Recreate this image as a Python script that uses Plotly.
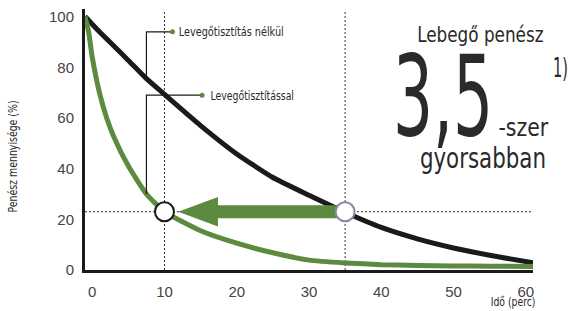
import json
import plotly.graph_objects as go

# ---- data ----
time_min = [-1, -0.5, 0, 1, 2, 3, 5, 7.5, 10, 15, 20, 25, 30, 35, 40, 45, 50, 55, 61]
mold_without = [100, 98.6, 97, 94, 91.2, 88.4, 82.7, 75.5, 69.3, 57, 45.8, 36.5, 29.5, 22.8, 16.8, 12.3, 8.7, 5.8, 2.8]
mold_with = [100, 94, 84, 70, 60, 52.5, 41, 30, 23, 15.5, 10.6, 6.8, 3.9, 2.8, 2.1, 1.8, 1.6, 1.5, 1.4]
y_ticks = [0, 20, 40, 60, 80, 100]
x_ticks = [0, 10, 20, 30, 40, 50, 60]
level = 23          # remaining mold level compared
t_with = 10         # minutes to reach level with purifier
t_without = 35      # minutes to reach level without purifier
label_without = "Levegőtisztítás nélkül"
label_with = "Levegőtisztítással"

GREEN = "#5c8a3e"
BLACK = "#1a1a1a"
NARROW = "DejaVu Sans Condensed, DejaVu Sans, sans-serif"
TEXT = "#2a2a2a"

W, H = 571, 311
ML, MR, MT, MB = 85, 38, 9, 41
PW, PH = W - ML - MR, H - MT - MB


def px(xp):
    return (xp - ML) / PW


def py(yp):
    return (H - MB - yp) / PH


fig = go.Figure()

# dotted reference lines
for t in (t_with, t_without):
    fig.add_shape(type="line", x0=t, x1=t, y0=0, y1=102, xref="x", yref="y",
                  line=dict(color="#333", width=1, dash="2px,2px"), layer="below")
fig.add_shape(type="line", x0=-1, x1=61, y0=level, y1=level, xref="x", yref="y",
              line=dict(color="#333", width=1, dash="2px,2px"), layer="below")

# curves
fig.add_trace(go.Scatter(x=time_min, y=mold_without, mode="lines",
                         line=dict(color=BLACK, width=5, shape="spline", smoothing=0.5),
                         hoverinfo="skip", showlegend=False))
fig.add_trace(go.Scatter(x=time_min, y=mold_with, mode="lines",
                         line=dict(color=GREEN, width=5, shape="spline", smoothing=0.5),
                         hoverinfo="skip", showlegend=False))

# arrow polygon (from the 'without' crossing towards the 'with' crossing)
tip = t_with + 1.9
head_base = tip + 5.5
shaft_h = 2.6
head_h = 5.8
ax = [t_without, head_base, head_base, tip, head_base, head_base, t_without, t_without]
ay = [level + shaft_h, level + shaft_h, level + head_h, level, level - head_h,
      level - shaft_h, level - shaft_h, level + shaft_h]
fig.add_trace(go.Scatter(x=ax, y=ay, mode="lines", fill="toself", fillcolor=GREEN,
                         line=dict(width=0, color=GREEN), hoverinfo="skip", showlegend=False))

# crossing circles
fig.add_trace(go.Scatter(x=[t_with], y=[level], mode="markers",
                         marker=dict(size=19, color="white", line=dict(color=BLACK, width=2)),
                         hoverinfo="skip", showlegend=False))
fig.add_trace(go.Scatter(x=[t_without], y=[level], mode="markers",
                         marker=dict(size=19, color="white", line=dict(color="#8d86a0", width=2)),
                         hoverinfo="skip", showlegend=False))


# callouts
def y_at(t, xs, ys):
    for i in range(len(xs) - 1):
        if xs[i] <= t <= xs[i + 1]:
            f = (t - xs[i]) / (xs[i + 1] - xs[i])
            return ys[i] + f * (ys[i + 1] - ys[i])
    return ys[-1]


corner_x = 7.5
callouts = [
    (label_without, 11.1, 94, y_at(corner_x, time_min, mold_without)),
    (label_with, 15.2, 69, y_at(corner_x, time_min, mold_with)),
]
for text, dx, dy, cy in callouts:
    fig.add_trace(go.Scatter(x=[dx, corner_x, corner_x], y=[dy, dy, cy], mode="lines",
                             line=dict(color=BLACK, width=1.2), hoverinfo="skip", showlegend=False))
    fig.add_trace(go.Scatter(x=[dx], y=[dy], mode="markers",
                             marker=dict(size=5, color=GREEN), hoverinfo="skip", showlegend=False))

# callout label centres (pixel) in the reference
fig.add_annotation(xref="paper", yref="paper", x=px(231), y=py(32), text=label_without,
                   showarrow=False, xanchor="center", yanchor="middle",
                   font=dict(family=NARROW, size=13, color=TEXT))
fig.add_annotation(xref="paper", yref="paper", x=px(251.5), y=py(95), text=label_with,
                   showarrow=False, xanchor="center", yanchor="middle",
                   font=dict(family=NARROW, size=13, color=TEXT))

# big texts
big = [
    ("Lebegő penész", 480, 35, 22),
    ("3,5", 442.5, 96, 112),
    ("-szer", 523, 127, 25),
    ("1)", 560, 67, 27),
    ("gyorsabban", 483, 158, 29),
]
for text, xx, yy, size in big:
    fig.add_annotation(xref="paper", yref="paper", x=px(xx), y=py(yy), text=text,
                       showarrow=False, xanchor="center", yanchor="middle",
                       font=dict(family=NARROW, size=size, color=TEXT))

# axis titles
fig.add_annotation(xref="paper", yref="paper", x=px(13), y=py(157),
                   text="Penész mennyisége (%)", showarrow=False, textangle=-90,
                   xanchor="center", yanchor="middle",
                   font=dict(family=NARROW, size=12, color=TEXT))
fig.add_annotation(xref="paper", yref="paper", x=px(512.5), y=py(302),
                   text="Idő (perc)", showarrow=False, xanchor="center", yanchor="middle",
                   font=dict(family=NARROW, size=12, color=TEXT))

fig.update_layout(
    width=W, height=H,
    margin=dict(l=ML, r=MR, t=MT, b=MB, autoexpand=False),
    paper_bgcolor="white", plot_bgcolor="white",
    xaxis=dict(range=[-1, 61], tickvals=x_ticks, showgrid=False, zeroline=False,
               showline=True, linecolor=BLACK, linewidth=3, ticks="",
               ticklabelstandoff=6, automargin=False,
               tickfont=dict(family="Liberation Sans, Arial, sans-serif", size=15, color="#444")),
    yaxis=dict(range=[0, 103], tickvals=y_ticks, showgrid=False, zeroline=False,
               showline=True, linecolor=BLACK, linewidth=3, ticks="",
               ticklabelstandoff=5, automargin=False,
               tickfont=dict(family="Liberation Sans, Arial, sans-serif", size=15, color="#444")),
    showlegend=False,
)

# horizontal squeeze factors to imitate the condensed typeface of the original
squeeze = {
    label_without: 0.83,
    label_with: 0.8,
    "Penész mennyisége (%)": 0.87,
    "Idő (perc)": 0.86,
    "Lebegő penész": 0.85,
    "3,5": 0.625,
    "-szer": 0.91,
    "1)": 0.6,
    "gyorsabban": 0.82,
}
post = """
document.body.style.margin = '0';
document.body.style.padding = '0';
var gd = document.getElementById('{plot_id}');
var SQ = %s;
function squeezeText(){
  gd.querySelectorAll('.annotation-text').forEach(function(t){
    var s = SQ[t.textContent];
    if (s) {
      t.style.transformBox = 'fill-box';
      t.style.transformOrigin = 'center';
      t.style.transform = 'scaleX(' + s + ')';
    }
  });
}
squeezeText();
gd.on('plotly_afterplot', squeezeText);
""" % json.dumps(squeeze, ensure_ascii=False)

fig.write_html("out.html", post_script=post, config={"displayModeBar": False})
